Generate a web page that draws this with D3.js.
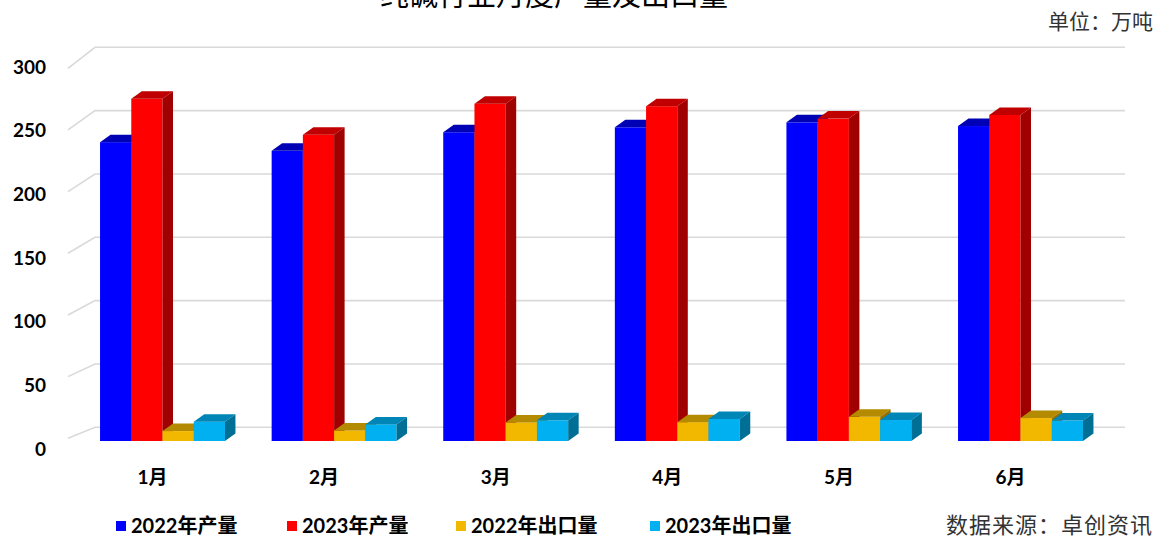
<!DOCTYPE html>
<html lang="zh">
<head>
<meta charset="UTF-8">
<title>纯碱行业月度产量及出口量</title>
<script src="https://cdn.jsdelivr.net/npm/d3@7"></script>
<style>
    body { margin: 0; background: #fff; }
    svg { display: block; }
</style>
</head>
<body>
<div id="chart"></div>
<script>
    // 数据
    const months = ["1月", "2月", "3月", "4月", "5月", "6月"];
    const seriesNames = ["2022年产量", "2023年产量", "2022年出口量", "2023年出口量"];
    const prod2022 = [241, 234, 249, 253, 257, 254];
    const prod2023 = [276, 247, 272, 270, 260, 263];
    const export2022 = [8, 8.5, 15, 15.2, 19.5, 18.5];
    const export2023 = [15.6, 13.4, 16.7, 17.8, 16.9, 16.5];
    const yTicks = [0, 50, 100, 150, 200, 250, 300];

    const seriesValues = [prod2022, prod2023, export2022, export2023];
    // 正面 / 顶面 / 侧面 颜色
    const colors = [
        { front: "#0000ff", top: "#0000b4", side: "#00008c" },
        { front: "#ff0000", top: "#c00000", side: "#a00000" },
        { front: "#f2b800", top: "#b48a00", side: "#957200" },
        { front: "#00b0f0", top: "#0086b6", side: "#006f96" }
    ];

    const W = 1157, H = 538;
    const depthX = 10.5, depthY = -7.5;   // 柱子的立体偏移

    const svg = d3.select("#chart").append("svg")
        .attr("width", W).attr("height", H);

    // 比例尺
    const x = d3.scaleBand()
        .domain(months)
        .range([76.7, 1106.3])
        .paddingInner(0.272)
        .paddingOuter(0.136);

    const x1 = d3.scaleBand()
        .domain(seriesNames)
        .range([0, x.bandwidth()]);

    const yBar = d3.scaleLinear().domain([0, 300]).range([441, 69]);     // 柱子
    const yBack = d3.scaleLinear().domain([0, 300]).range([427.3, 47.3]); // 背墙网格
    const yFront = d3.scaleLinear().domain([0, 300]).range([438.3, 68.3]); // 左墙前沿
    const yLabel = d3.scaleLinear().domain([0, 300]).range([449, 67]);    // 刻度文字

    const wallLeft = 95, wallFront = 68, wallRight = 1125;

    // 网格线
    const grid = svg.append("g").attr("stroke", "#d9d9d9").attr("stroke-width", 1.6).attr("fill", "none");
    grid.selectAll("path")
        .data(yTicks)
        .enter().append("path")
        .attr("d", d => `M${wallFront},${yFront(d)}L${wallLeft},${yBack(d)}L${wallRight},${yBack(d)}`);

    // Y轴文字
    const yAxis = svg.append("g")
        .attr("transform", "translate(46,0)")
        .call(d3.axisLeft(yLabel).tickValues(yTicks).tickSize(0).tickPadding(0));
    yAxis.select(".domain").remove();
    yAxis.selectAll("text")
        .attr("font-family", "Lato, 'Noto Sans', sans-serif")
        .attr("font-weight", "bold")
        .attr("font-size", 19)
        .attr("fill", "#000");

    // X轴文字
    const xAxis = svg.append("g")
        .attr("transform", "translate(-10,470)")
        .call(d3.axisBottom(x).tickSize(0).tickPadding(0));
    xAxis.select(".domain").remove();
    xAxis.selectAll("text")
        .attr("font-family", "Lato, 'Noto Sans CJK SC', sans-serif")
        .attr("font-weight", "bold")
        .attr("font-size", 19)
        .attr("fill", "#000");

    // 立体柱
    const bars = [];
    months.forEach((m, i) => {
        seriesNames.forEach((s, j) => {
            bars.push({ month: m, series: s, idx: j, value: seriesValues[j][i] });
        });
    });

    const barG = svg.append("g");
    const bw = x1.bandwidth();
    bars.forEach(d => {
        const x0 = x(d.month) + x1(d.series);
        const yt = yBar(d.value);
        const yb = yBar(0);
        const c = colors[d.idx];
        const g = barG.append("g");
        g.append("rect")
            .attr("x", x0).attr("y", yt)
            .attr("width", bw).attr("height", yb - yt)
            .attr("fill", c.front);
        g.append("path")
            .attr("d", `M${x0},${yt}L${x0 + depthX},${yt + depthY}L${x0 + bw + depthX},${yt + depthY}L${x0 + bw},${yt}Z`)
            .attr("fill", c.top);
        g.append("path")
            .attr("d", `M${x0 + bw},${yt}L${x0 + bw + depthX},${yt + depthY}L${x0 + bw + depthX},${yb + depthY}L${x0 + bw},${yb}Z`)
            .attr("fill", c.side);
    });

    // 标题（顶部被裁切）
    svg.append("text")
        .attr("x", 554).attr("y", 6)
        .attr("text-anchor", "middle")
        .attr("font-family", "'Noto Sans CJK SC', sans-serif")
        .attr("font-size", 29)
        .attr("fill", "#000")
        .text("纯碱行业月度产量及出口量");

    // 单位
    svg.append("text")
        .attr("x", 1153).attr("y", 29)
        .attr("text-anchor", "end")
        .attr("font-family", "'Noto Sans CJK SC', sans-serif")
        .attr("font-size", 21)
        .attr("fill", "#333")
        .text("单位：万吨");

    // 图例
    const legendX = [116, 287, 456, 650];
    const legend = svg.append("g");
    seriesNames.forEach((s, j) => {
        legend.append("rect")
            .attr("x", legendX[j]).attr("y", 521)
            .attr("width", 10).attr("height", 10)
            .attr("fill", colors[j].front);
        legend.append("text")
            .attr("x", legendX[j] + 15).attr("y", 533)
            .attr("font-family", "Lato, 'Noto Sans CJK SC', sans-serif")
            .attr("font-weight", "bold")
            .attr("font-size", 20)
            .attr("fill", "#000")
            .text(s);
    });

    // 数据来源
    svg.append("text")
        .attr("x", 1153).attr("y", 533)
        .attr("text-anchor", "end")
        .attr("font-family", "'Noto Sans CJK SC', sans-serif")
        .attr("font-size", 22)
        .attr("letter-spacing", 1)
        .attr("fill", "#333")
        .text("数据来源：卓创资讯");
</script>
</body>
</html>
